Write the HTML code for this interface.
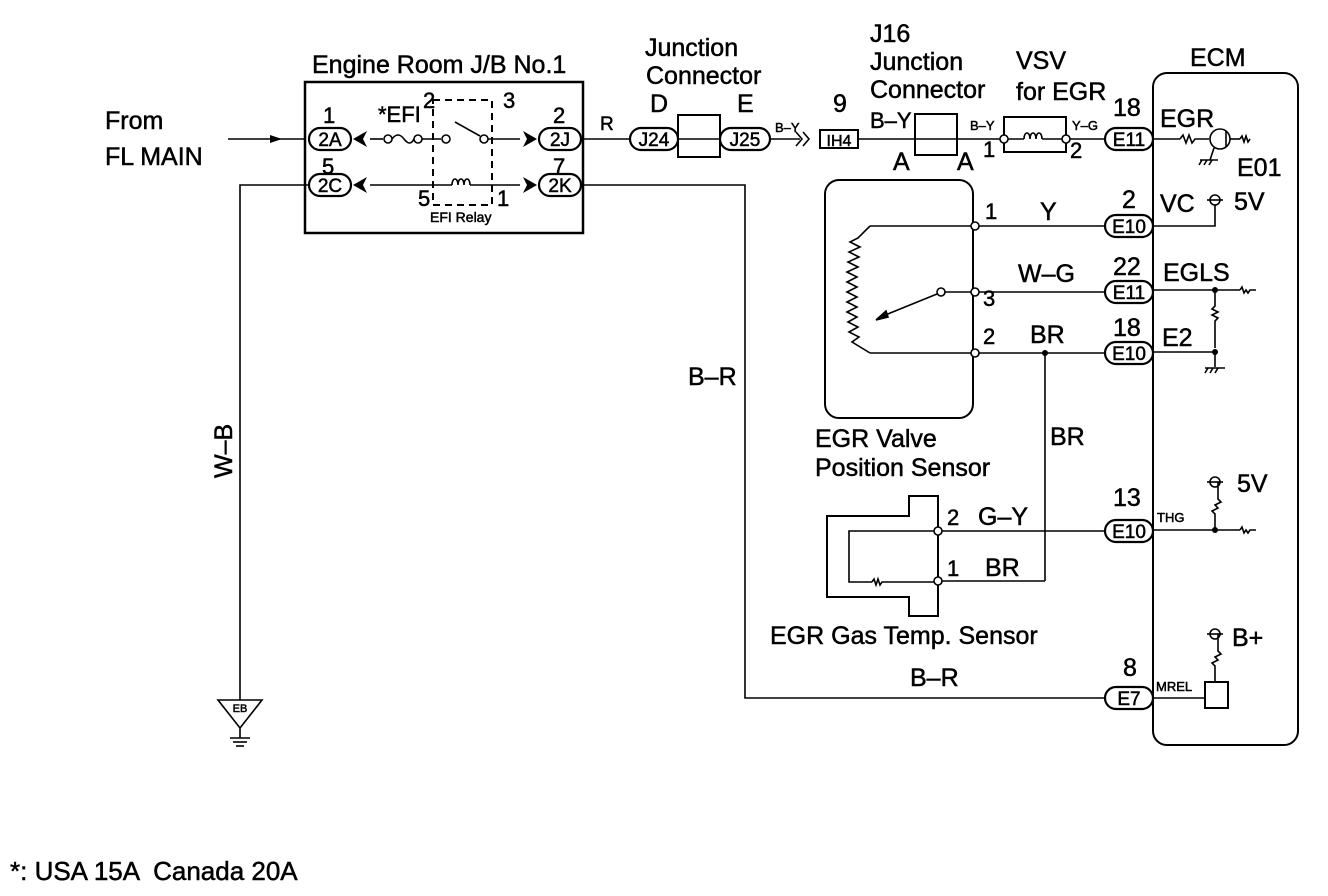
<!DOCTYPE html>
<html><head><style>body{margin:0;background:#fff}svg{display:block}text{font-family:"Liberation Sans",sans-serif;fill:#000;stroke:#000;stroke-width:0.5}</style></head><body>
<svg width="1328" height="896" viewBox="0 0 1328 896" xmlns="http://www.w3.org/2000/svg">
<g stroke="#000" stroke-width="1.6" fill="none">
<line x1="228" y1="139" x2="305" y2="139"/>
<rect x="305" y="82" width="278" height="151" stroke-width="2.5"/>
<rect x="309" y="128" width="42" height="22" rx="11" stroke-width="2.2"/>
<rect x="309" y="174" width="42" height="22" rx="11" stroke-width="2.2"/>
<rect x="539" y="128" width="42" height="22" rx="11" stroke-width="2.2"/>
<rect x="539" y="174" width="42" height="22" rx="11" stroke-width="2.2"/>
<line x1="370" y1="139" x2="383" y2="139"/>
<path d="M392 139 q6 -8 12 0 q6 8 10 0"/>
<circle cx="388" cy="139" r="4" fill="#fff"/><circle cx="418" cy="139" r="4" fill="#fff"/>
<line x1="422" y1="139" x2="441" y2="139"/>
<circle cx="446" cy="139" r="4" fill="#fff"/>
<line x1="455" y1="122" x2="480" y2="136"/>
<circle cx="484" cy="139" r="4" fill="#fff"/>
<line x1="488" y1="139" x2="520" y2="139"/>
<line x1="370" y1="185" x2="452" y2="185"/>
<path d="M452 185 c0 -8 6 -8 6 0 c0 -8 6 -8 6 0 c0 -8 6 -8 6 0"/>
<line x1="470" y1="185" x2="520" y2="185"/>
<rect x="433" y="100" width="59" height="105" stroke-dasharray="7 5" stroke-width="2"/>
<polyline points="309,185 240,185 240,700"/>
<line x1="583" y1="139" x2="630" y2="139"/>
<rect x="630" y="128" width="48" height="22" rx="11" stroke-width="2.2"/>
<rect x="678" y="115" width="42" height="42" stroke-width="2"/>
<line x1="678" y1="139" x2="720" y2="139"/>
<rect x="720" y="128" width="50" height="22" rx="11" stroke-width="2.2"/>
<line x1="770" y1="139" x2="800" y2="139"/>
<path d="M796 132 l6 7 l-6 7 M803 132 l6 7 l-6 7"/>
<rect x="820" y="130" width="38" height="18" stroke-width="2"/>
<line x1="858" y1="139" x2="1000" y2="139"/>
<rect x="915" y="114" width="42" height="41" stroke-width="2"/>
<rect x="1004" y="117" width="62" height="35" stroke-width="2"/>
<line x1="1004" y1="139" x2="1024" y2="139"/>
<path d="M1024 139 c0 -8 6 -8 6 0 c0 -8 6 -8 6 0 c0 -8 6 -8 6 0"/>
<line x1="1042" y1="139" x2="1105" y2="139"/>
<circle cx="1004" cy="139" r="4" fill="#fff"/><circle cx="1066" cy="139" r="4" fill="#fff"/>
<rect x="1105" y="128" width="48" height="22" rx="11" stroke-width="2.2"/>
<rect x="1153" y="73" width="145" height="672" rx="14" stroke-width="2"/>
<line x1="1153" y1="139" x2="1180" y2="139"/>
<path d="M1180 139 l3 -4 l3 8 l3 -8 l3 8 l3 -4 h14"/>
<circle cx="1220" cy="139" r="10"/>
<line x1="1226" y1="131" x2="1226" y2="147"/>
<line x1="1230" y1="139" x2="1240" y2="139"/>
<path d="M1240 139 l2 -3 l2 6 l2 -6 l2 6 l2 -3"/>
<line x1="1214" y1="148" x2="1210" y2="160"/>
<path d="M1200 160 h18 M1202 160 l-3 5 M1207 160 l-3 5 M1212 160 l-3 5"/>
<rect x="825" y="180" width="148" height="238" rx="14" stroke-width="2"/>
<line x1="975" y1="226" x2="1105" y2="226"/>
<line x1="975" y1="292" x2="1105" y2="292"/>
<line x1="975" y1="353" x2="1105" y2="353"/>
<line x1="870" y1="226" x2="975" y2="226"/>
<line x1="870" y1="353" x2="975" y2="353"/>
<polyline points="870,226 858,238 850,242 860,247 849,252 859,257 848,262 858,267 847,272 857,277 847,282 857,287 847,292 857,297 847,302 857,307 847,312 857,317 848,322 858,327 849,332 859,337 852,342 870,353"/>
<line x1="975" y1="292" x2="945" y2="292"/>
<circle cx="941" cy="292" r="4" fill="#fff"/>
<line x1="937" y1="294" x2="878" y2="318"/>
<path d="M876 320 l10 -9 l2 6 z" fill="#000"/>
<circle cx="975" cy="226" r="4" fill="#fff"/><circle cx="975" cy="292" r="4" fill="#fff"/><circle cx="975" cy="353" r="4" fill="#fff"/>
<rect x="1105" y="215" width="48" height="22" rx="11" stroke-width="2.2"/>
<rect x="1105" y="281" width="48" height="22" rx="11" stroke-width="2.2"/>
<rect x="1105" y="342" width="48" height="22" rx="11" stroke-width="2.2"/>
<polyline points="1153,226 1215,226 1215,205"/>
<circle cx="1215" cy="200" r="5"/><line x1="1207" y1="200" x2="1223" y2="200"/>
<line x1="1153" y1="290" x2="1240" y2="290"/>
<path d="M1240 290 l2 -3 l2 6 l2 -3 l2 3 l2 -3 h6"/>
<path d="M1215 290 v16 l-3 3 l6 3 l-6 3 l6 3 l-3 3 v27"/>
<line x1="1153" y1="352" x2="1215" y2="352"/>
<line x1="1215" y1="352" x2="1215" y2="367"/>
<path d="M1205 368 h20 M1208 368 l-3 5 M1213 368 l-3 5 M1218 368 l-3 5"/>
<line x1="1045" y1="353" x2="1045" y2="581"/>
<polygon points="827,516 909,516 909,496 938,496 938,616 909,616 909,597 827,597" stroke-width="2"/>
<polyline points="938,531 849,531 849,582 872,582"/>
<path d="M872 582 l2 -3 l2 6 l2 -6 l2 6 l2 -3 h56"/>
<line x1="938" y1="531" x2="1105" y2="531"/>
<line x1="938" y1="581" x2="1045" y2="581"/>
<circle cx="938" cy="531" r="4" fill="#fff"/><circle cx="938" cy="581" r="4" fill="#fff"/>
<rect x="1105" y="520" width="48" height="22" rx="11" stroke-width="2.2"/>
<line x1="1153" y1="530" x2="1240" y2="530"/>
<path d="M1240 530 l2 -3 l2 6 l2 -3 l2 3 l2 -3 h6"/>
<path d="M1215 530 v-16 l-3 -3 l6 -3 l-3 -3 l6 -3 l-3 -3 v-17"/>
<circle cx="1215" cy="482" r="5"/><line x1="1207" y1="482" x2="1223" y2="482"/>
<polyline points="581,185 745,185 745,698 1105,698"/>
<rect x="1105" y="687" width="48" height="22" rx="11" stroke-width="2.2"/>
<line x1="1153" y1="698" x2="1205" y2="698"/>
<rect x="1205" y="682" width="23" height="26" stroke-width="2"/>
<path d="M1215 682 v-16 l-3 -3 l6 -3 l-3 -3 l6 -3 l-3 -3 v-17"/>
<circle cx="1215" cy="634" r="5"/><line x1="1207" y1="634" x2="1223" y2="634"/>
<polygon points="218,700 262,700 240,728"/>
<line x1="240" y1="728" x2="240" y2="738"/>
<line x1="230" y1="738" x2="250" y2="738"/><line x1="233" y1="742" x2="247" y2="742"/><line x1="236" y1="746" x2="244" y2="746"/>
</g>
<g fill="#000">
<path d="M270 135 l12 4 l-12 4 z"/>
<path d="M353 139 l14 -8 l-4 8 l4 8 z M353 185 l14 -8 l-4 8 l4 8 z"/>
<path d="M537 139 l-14 -8 l4 8 l-4 8 z M537 185 l-14 -8 l4 8 l-4 8 z"/>
<circle cx="1045" cy="353" r="3"/><circle cx="1215" cy="290" r="3"/><circle cx="1215" cy="352" r="3"/><circle cx="1215" cy="530" r="3"/>
</g>
<g font-size="25">
<text x="105" y="129">From</text>
<text x="105" y="165">FL MAIN</text>
<text x="312" y="73">Engine Room J/B No.1</text>
<text x="645" y="56">Junction</text>
<text x="646" y="84">Connector</text>
<text x="650" y="112">D</text><text x="737" y="112">E</text>
<text x="870" y="42">J16</text>
<text x="870" y="70">Junction</text>
<text x="870" y="98">Connector</text>
<text x="1016" y="69">VSV</text>
<text x="1016" y="100">for EGR</text>
<text x="1190" y="66">ECM</text>
<text x="833" y="112">9</text>
<text x="893" y="170">A</text><text x="957" y="170">A</text>
<text x="1113" y="116">18</text>
<text x="1160" y="127">EGR</text>
<text x="1237" y="176">E01</text>
<text x="1122" y="208">2</text>
<text x="1160" y="212">VC</text><text x="1234" y="210">5V</text>
<text x="1113" y="275">22</text>
<text x="1163" y="281">EGLS</text>
<text x="1113" y="336">18</text>
<text x="1162" y="346">E2</text>
<text x="1040" y="220">Y</text>
<text x="1018" y="282">W–G</text>
<text x="1030" y="343">BR</text>
<text x="1050" y="445">BR</text>
<text x="815" y="447">EGR Valve</text>
<text x="815" y="476">Position Sensor</text>
<text x="1113" y="506">13</text>
<text x="1237" y="492">5V</text>
<text x="978" y="525">G–Y</text>
<text x="985" y="576">BR</text>
<text x="770" y="644">EGR Gas Temp. Sensor</text>
<text x="1232" y="646">B+</text>
<text x="1123" y="676">8</text>
<text x="910" y="686">B–R</text>
<text x="688" y="385">B–R</text>
<text x="600" y="130" font-size="19">R</text>
<text x="10" y="880" font-size="26" xml:space="preserve">*: USA 15A  Canada 20A</text>
<text transform="translate(232,478) rotate(-90)">W–B</text>
</g>
<g font-size="22">
<text x="323" y="123">1</text><text x="322" y="174">5</text>
<text x="553" y="123">2</text><text x="553" y="174">7</text>
<text x="378" y="122">*EFI</text>
<text x="423" y="108">2</text><text x="503" y="108">3</text>
<text x="418" y="206">5</text><text x="497" y="206">1</text>
<text x="983" y="157">1</text><text x="1070" y="158">2</text>
<text x="985" y="219">1</text><text x="983" y="306">3</text><text x="983" y="344">2</text>
<text x="947" y="525">2</text><text x="947" y="576">1</text>
<text x="870" y="128">B–Y</text>
</g>
<g font-size="19" text-anchor="middle">
<text x="330" y="146">2A</text><text x="330" y="192">2C</text>
<text x="560" y="146">2J</text><text x="560" y="192">2K</text>
<text x="654" y="146">J24</text><text x="745" y="146">J25</text>
<text x="839" y="146" font-size="16">IH4</text>
<text x="1129" y="146">E11</text>
<text x="1129" y="233">E10</text><text x="1129" y="299">E11</text><text x="1129" y="360">E10</text>
<text x="1129" y="538">E10</text><text x="1129" y="705">E7</text>
<text x="240" y="712" font-size="11">EB</text>
</g>
<g font-size="13">
<text x="430" y="222" font-size="14">EFI Relay</text>
<text x="775" y="132">B–Y</text>
<text x="970" y="130">B–Y</text>
<text x="1072" y="130">Y–G</text>
<text x="1157" y="522">THG</text>
<text x="1156" y="691">MREL</text>
</g>
</svg>
</body></html>
